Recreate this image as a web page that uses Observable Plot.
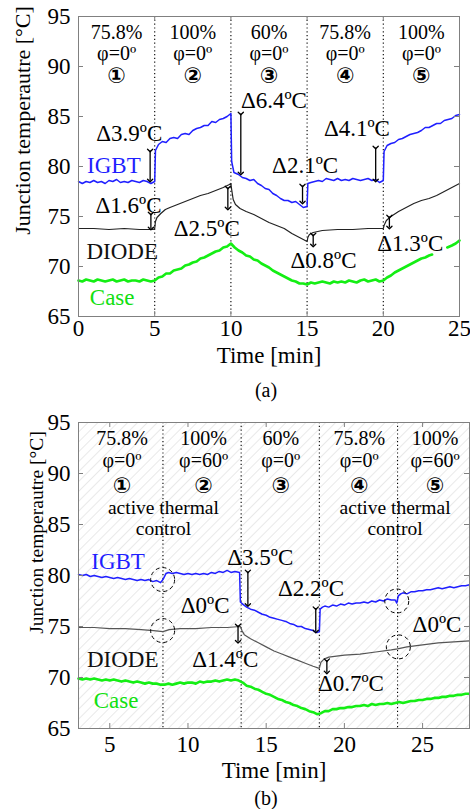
<!DOCTYPE html>
<html><head><meta charset="utf-8">
<script src="https://cdn.jsdelivr.net/npm/d3@7"></script>
<script src="https://cdn.jsdelivr.net/npm/@observablehq/plot@0.6"></script>
<style>
body{margin:0;background:#fff;}
#wrap{position:relative;width:470px;height:809px;font-family:"Liberation Serif","Times New Roman",serif;overflow:hidden;}
#wrap svg{position:absolute;left:0;font-family:"Liberation Serif","Times New Roman",serif !important;}
#wrap svg text{font-family:"Liberation Serif","Times New Roman",serif;}
#wrap svg text.circ{font-family:"DejaVu Sans",sans-serif !important;}
.cap{position:absolute;width:100px;text-align:center;font-size:20px;line-height:20px;}
</style></head><body>
<div id="wrap"></div>
<script>
// ---------- Panel (a) data ----------
const xTicksA = [0, 5, 10, 15, 20, 25];
const xTicksB = [5, 10, 15, 20, 25];
const yTicks = [65, 70, 75, 80, 85, 90, 95];
const boundsA = [5, 10, 15, 20];
const boundsB = [8.4, 13.4, 18.4, 23.4];
const loadA = ["75.8%", "100%", "60%", "75.8%", "100%"];
const phiA = ["φ=0º", "φ=0º", "φ=0º", "φ=0º", "φ=0º"];
const loadB = ["75.8%", "100%", "60%", "75.8%", "100%"];
const phiB = ["φ=0º", "φ=60º", "φ=0º", "φ=0º", "φ=60º"];
const stepNo = ["①", "②", "③", "④", "⑤"];
const midA = [2.5, 7.5, 12.5, 17.5, 22.5];
const midB = [5.78, 11.0, 15.93, 20.95, 25.8];
const atcB = [8.43, 23.24];
// temperature level of each header row (load, φ, step, "active thermal", "control")
const rowsA = [93.4, 91.3, 89.1];
const rowsB = [93.4, 91.25, 88.8, 86.6, 84.6];

const igbtA = [[0,78.5],[0.25,78.3],[0.5,78.5],[0.75,78.4],[1,78.6],[1.25,78.4],[1.5,78.5],[1.75,78.3],[2,78.6],[2.25,78.5],[2.5,78.7],[2.75,78.4],[3,78.5],[3.25,78.4],[3.5,78.6],[3.75,78.5],[4,78.4],[4.25,78.6],[4.5,78.5],[4.75,78.3],[5,78.5],
[5.05,81.6],[5.25,82.2],[5.5,82.5],[5.75,82.4],[6,82.8],[6.25,82.9],[6.5,82.8],[6.75,83.2],[7,83.3],[7.25,83.2],[7.5,83.6],[7.75,83.8],[8,83.9],[8.25,84.1],[8.5,84.1],[8.75,84.5],[9,84.4],[9.25,84.7],[9.5,84.8],[9.75,85.0],[10,85.3],
[10.05,80.5],[10.2,79.4],[10.5,79.2],[10.75,78.9],[11,78.8],[11.25,78.6],[11.5,78.7],[11.75,78.3],[12,78.1],[12.25,77.8],[12.5,77.7],[12.75,77.3],[13,77.1],[13.25,76.8],[13.5,76.6],[13.75,76.6],[14,76.4],[14.25,76.5],[14.5,76.2],[14.75,75.9],[15,76.0],
[15.05,78.3],[15.25,78.4],[15.5,78.5],[15.75,78.6],[16,78.5],[16.25,78.8],[16.5,78.7],[16.75,78.6],[17,78.8],[17.25,78.6],[17.5,78.7],[17.75,78.6],[18,78.8],[18.25,78.7],[18.5,78.6],[18.75,78.7],[19,78.8],[19.25,78.6],[19.5,78.7],[19.75,78.4],[20,78.6],
[20.05,81.5],[20.25,82.1],[20.5,82.3],[20.75,82.4],[21,82.7],[21.25,82.8],[21.5,83.0],[21.75,83.2],[22,83.3],[22.25,83.4],[22.5,83.6],[22.75,83.9],[23,83.9],[23.25,84.1],[23.5,84.3],[23.75,84.3],[24,84.6],[24.25,84.7],[24.5,84.8],[24.75,85.1],[25,85.2]];

const diodeA = [[0,73.8],[1,73.8],[2,73.7],[3,73.8],[4,73.7],[4.9,73.7],[5,73.8],[5.05,74.5],[5.15,74.9],[5.4,75.3],[5.7,75.7],[6,75.9],[6.5,76.2],[7,76.5],[7.5,76.8],[8,77.1],[8.5,77.3],[9,77.6],[9.5,77.9],[9.9,78.2],[10,78.3],
[10.05,77.7],[10.15,76.7],[10.3,76.2],[10.6,75.8],[11,75.5],[11.5,75.2],[12,74.8],[12.5,74.4],[13,74.1],[13.5,73.8],[14,73.3],[14.5,72.9],[15,72.5],
[15.05,72.9],[15.15,73.2],[15.4,73.4],[16,73.6],[17,73.7],[18,73.7],[19,73.8],[20,73.8],
[20.05,74.1],[20.2,74.6],[20.5,75.0],[21,75.5],[21.5,75.9],[22,76.3],[22.5,76.6],[23,76.8],[23.5,77.1],[24,77.5],[24.5,77.9],[25,78.3]];

const caseA = [[0,68.6],[0.25,68.5],[0.5,68.7],[0.75,68.6],[1,68.5],[1.25,68.7],[1.5,68.6],[1.75,68.5],[2,68.6],[2.25,68.7],[2.5,68.5],[2.75,68.6],[3,68.7],[3.25,68.5],[3.5,68.6],[3.75,68.6],[4,68.5],[4.25,68.7],[4.5,68.6],[4.75,68.5],[5,68.6],
[5.25,68.9],[5.5,69.0],[5.75,69.3],[6,69.3],[6.25,69.6],[6.5,69.7],[6.75,69.8],[7,70.1],[7.25,70.2],[7.5,70.4],[7.75,70.5],[8,70.8],[8.25,70.9],[8.5,71.1],[8.75,71.3],[9,71.5],[9.25,71.6],[9.5,71.9],[9.75,72.0],[10,72.3],
[10.25,71.9],[10.5,71.6],[10.75,71.4],[11,71.1],[11.25,71.0],[11.5,70.7],[11.75,70.6],[12,70.3],[12.25,70.1],[12.5,69.9],[12.75,69.6],[13,69.4],[13.25,69.2],[13.5,69.0],[13.75,68.8],[14,68.6],[14.25,68.5],[14.5,68.3],[14.75,68.3],[15,68.2],
[15.25,68.4],[15.5,68.3],[15.75,68.4],[16,68.5],[16.25,68.4],[16.5,68.3],[16.75,68.5],[17,68.4],[17.25,68.5],[17.5,68.4],[17.75,68.6],[18,68.5],[18.25,68.4],[18.5,68.6],[18.75,68.7],[19,68.5],[19.25,68.6],[19.5,68.7],[19.75,68.5],[20,68.6],
[20.25,68.9],[20.5,69.1],[20.75,69.4],[21,69.6],[21.25,69.8],[21.5,70.0],[21.75,70.2],[22,70.4],[22.25,70.6],[22.5,70.8],[22.75,70.9],[23,71.1],[23.2,71.2],[23.5,null],[24.2,71.9],[24.5,72.1],[24.75,72.3],[25,72.6]];

// ---------- Panel (b) data ----------
const igbtB = [[3,80.1],[3.25,80.0],[3.5,80.1],[3.75,79.9],[4,80.0],[4.25,79.9],[4.5,79.8],[4.75,79.9],[5,79.8],[5.25,79.7],[5.5,79.8],[5.75,79.7],[6,79.6],[6.25,79.7],[6.5,79.6],[6.75,79.5],[7,79.6],[7.25,79.5],[7.5,79.6],[7.75,79.4],[8,79.5],[8.25,79.3],[8.4,79.6],
[8.6,80.2],[8.75,80.3],[9,80.2],[9.25,80.3],[9.5,80.2],[9.75,80.1],[10,80.2],[10.25,80.1],[10.5,80.2],[10.75,80.1],[11,80.2],[11.25,80.1],[11.5,80.3],[11.75,80.2],[12,80.4],[12.25,80.3],[12.5,80.5],[12.75,80.3],[13,80.4],[13.3,80.3],
[13.35,77.4],[13.5,77.2],[13.75,76.9],[14,76.7],[14.25,76.6],[14.5,76.4],[14.75,76.2],[15,76.1],[15.25,75.9],[15.5,75.8],[15.75,75.7],[16,75.6],[16.25,75.5],[16.5,75.3],[16.75,75.2],[17,75.0],[17.25,75.0],[17.5,74.8],[17.75,74.7],[18,74.6],[18.25,74.4],[18.4,74.5],
[18.45,76.7],[18.6,76.9],[18.75,77.0],[19,76.9],[19.25,77.1],[19.5,77.0],[19.75,77.2],[20,77.1],[20.25,77.3],[20.5,77.2],[20.75,77.3],[21,77.3],[21.25,77.4],[21.5,77.3],[21.75,77.5],[22,77.4],[22.25,77.6],[22.5,77.5],[22.75,77.7],[23,77.6],[23.25,77.6],[23.35,77.3],
[23.45,78.0],[23.6,78.2],[23.75,78.3],[24,78.2],[24.25,78.4],[24.5,78.4],[24.75,78.5],[25,78.5],[25.25,78.6],[25.5,78.6],[25.75,78.7],[26,78.8],[26.25,78.7],[26.5,78.8],[26.75,78.9],[27,78.8],[27.25,78.9],[27.5,79.0],[27.75,79.0],[28,79.1]];

const diodeB = [[3,74.9],[4,74.9],[5,74.8],[6,74.8],[7,74.7],[7.8,74.6],[8.4,74.5],[8.8,74.7],[9.5,74.8],[10.5,74.8],[11.5,74.9],[12.5,74.9],[13.35,75.0],
[13.45,74.6],[13.6,74.2],[14,73.8],[14.5,73.4],[15,73.0],[15.5,72.6],[16,72.3],[16.5,72.0],[17,71.7],[17.5,71.4],[18,71.1],[18.4,70.9],
[18.5,71.5],[18.7,71.8],[19,72.0],[19.5,72.1],[20,72.2],[21,72.3],[22,72.5],[23,72.7],[23.4,72.8],[24,73.0],[25,73.2],[26,73.4],[27,73.5],[28,73.6]];

const caseB = [[3,69.9],[3.25,69.8],[3.5,69.9],[3.75,69.8],[4,69.9],[4.25,69.8],[4.5,69.7],[4.75,69.8],[5,69.7],[5.25,69.8],[5.5,69.7],[5.75,69.6],[6,69.7],[6.25,69.6],[6.5,69.5],[6.75,69.6],[7,69.5],[7.25,69.4],[7.5,69.5],[7.75,69.4],[8,69.4],[8.25,69.3],[8.5,69.3],[8.75,69.4],[9,69.3],[9.25,69.4],[9.5,69.5],[9.75,69.4],[10,69.5],[10.25,69.5],[10.5,69.4],[10.75,69.6],[11,69.5],[11.25,69.6],[11.5,69.6],[11.75,69.7],[12,69.6],[12.25,69.7],[12.5,69.8],[12.75,69.7],[13,69.8],[13.25,69.7],
[13.5,69.5],[13.75,69.2],[14,69.1],[14.25,68.9],[14.5,68.8],[14.75,68.6],[15,68.4],[15.25,68.3],[15.5,68.1],[15.75,67.9],[16,67.8],[16.25,67.6],[16.5,67.5],[16.75,67.3],[17,67.2],[17.25,67.0],[17.5,66.9],[17.75,66.7],[18,66.6],[18.25,66.4],
[18.5,66.5],[18.75,66.7],[19,66.7],[19.25,66.9],[19.5,66.9],[19.75,67.0],[20,67.0],[20.25,67.1],[20.5,67.1],[20.75,67.2],[21,67.2],[21.25,67.3],[21.5,67.2],[21.75,67.4],[22,67.3],[22.25,67.4],[22.5,67.4],[22.75,67.5],[23,67.4],[23.25,67.5],[23.5,67.6],[23.75,67.5],[24,67.6],[24.25,67.7],[24.5,67.7],[24.75,67.8],[25,67.8],[25.25,67.9],[25.5,67.9],[25.75,68.0],[26,68.0],[26.25,68.1],[26.5,68.1],[26.75,68.2],[27,68.2],[27.25,68.3],[27.5,68.3],[27.75,68.4],[28,68.4]];

// annotations: [time, temperature, text]
const deltaA = [[3.33,83.3,"Δ3.9ºC"],[12.82,86.6,"Δ6.4ºC"],[14.87,80.1,"Δ2.1ºC"],[18.27,83.8,"Δ4.1ºC"],[3.28,76.1,"Δ1.6ºC"],[8.42,73.8,"Δ2.5ºC"],[16.08,70.6,"Δ0.8ºC"],[21.77,72.3,"Δ1.3ºC"]];
const arrowsA = [[4.7,81.6,78.6],[10.65,85.3,79.3],[14.7,78.1,76.4],[19.5,81.9,78.6],[4.75,75.3,73.8],[9.8,77.9,75.8],[15.4,73.2,72.1],[20.4,75.0,73.9]];
const namesA = [[2.32,80.1,"IGBT"],[2.87,71.5,"DIODE"],[2.21,66.9,"Case"]];
const deltaB = [[14.62,81.8,"Δ3.5ºC"],[11.1,77.0,"Δ0ºC"],[12.38,71.8,"Δ1.4ºC"],[17.87,78.7,"Δ2.2ºC"],[20.42,69.4,"Δ0.7ºC"],[25.92,75.2,"Δ0ºC"]];
const arrowsB = [[13.83,80.4,77.1],[18.17,76.8,74.5],[13.2,75.1,73.5],[18.88,71.7,70.5]];
const namesB = [[5.53,81.4,"IGBT"],[5.83,71.8,"DIODE"],[5.4,67.7,"Case"]];
const circlesB = [[8.38,79.6],[8.38,74.6],[23.35,77.5],[23.45,73.0]];

// ---------- rendering ----------
const FONT = "Liberation Serif";
const BLUE = "#1f1fff", GREEN = "#14ee14", AXIS = "#808080";
const seriesColors = {IGBT: "#1f1fff", DIODE: "#111", Case: "#11e011"};

function panel(o) {
  const W = o.width - o.ml - o.mr, H = o.height - o.mt - o.mb;
  const T = {fontFamily: FONT};
  const marks = [];
  if (o.hatch) marks.push(Plot.frame({fill: "url(#hatchB)", stroke: null}));
  marks.push(
    Plot.ruleX(o.bounds, {x: d => d, stroke: "#000", strokeWidth: 1.1, strokeDasharray: "1.2,2.6"}),
    Plot.line(o.caseD, {x: d => d[0], y: d => d[1], stroke: GREEN, strokeWidth: 2.6}),
    Plot.line(o.diode, {x: d => d[0], y: d => d[1], stroke: o.diodeColor, strokeWidth: 1.2}),
    Plot.line(o.igbt, {x: d => d[0], y: d => d[1], stroke: BLUE, strokeWidth: 1.5}),
    Plot.link(o.arrows, {x1: d => d[0], x2: d => d[0], y1: d => d[1], y2: d => d[2], stroke: "#000", strokeWidth: 1.3, markerStart: "arrow", markerEnd: "arrow"}),
    Plot.text(o.deltas, {...T, x: d => d[0], y: d => d[1], text: d => d[2], fontSize: 23, fill: "#000"}),
    Plot.text(o.names, {...T, x: d => d[0], y: d => d[1], text: d => d[2], fontSize: 23, fill: d => seriesColors[d[2]]}),
    Plot.text(o.mids, {...T, x: d => d, y: () => o.rows[0], text: (d, i) => o.load[i], fontSize: 20, lineAnchor: "middle"}),
    Plot.text(o.mids, {...T, x: d => d, y: () => o.rows[1], text: (d, i) => o.phi[i], fontSize: 20, lineAnchor: "middle"}),
    Plot.text(o.mids, {x: d => d, y: () => o.rows[2], text: (d, i) => stepNo[i], fontSize: 22, fontWeight: "bold", fontFamily: "DejaVu Sans", lineAnchor: "middle", className: "circwrap"})
  );
  if (o.circles) marks.push(Plot.dot(o.circles, {x: d => d[0], y: d => d[1], r: 12, stroke: "#000", strokeWidth: 1, strokeDasharray: "4,3", fill: "none"}));
  if (o.atc) {
    marks.push(
      Plot.text(o.atc, {...T, x: d => d, y: () => o.rows[3], text: () => "active thermal", fontSize: 19.5, lineAnchor: "middle"}),
      Plot.text(o.atc, {...T, x: d => d, y: () => o.rows[4], text: () => "control", fontSize: 19.5, lineAnchor: "middle"})
    );
  }
  marks.push(
    Plot.frame({stroke: AXIS, strokeWidth: 1}),
    Plot.tickX(o.xTicks, {x: d => d, insetTop: H - 5, stroke: AXIS}),
    Plot.tickX(o.xTicks, {x: d => d, insetBottom: H - 5, stroke: AXIS}),
    Plot.tickY(yTicks, {y: d => d, insetRight: W - 5, stroke: AXIS}),
    Plot.tickY(yTicks, {y: d => d, insetLeft: W - 5, stroke: AXIS}),
    Plot.axisX(o.xTicks, {...T, tickSize: 0, tickPadding: o.xPad, label: null, fontSize: 23}),
    Plot.axisY(yTicks, {...T, tickSize: 0, tickPadding: 8, label: null, fontSize: 23}),
    Plot.text(["Time [min]"], {...T, text: d => d, frameAnchor: "bottom", dy: o.xLabelDy, fontSize: 23, lineAnchor: "middle"}),
    Plot.text(["Junction temperautre [°C]"], {...T, text: d => d, frameAnchor: "left", textAnchor: "middle", rotate: -90, dx: o.yLabelDx, dy: o.yLabelDy, fontSize: o.yLabelSize, lineAnchor: "middle"})
  );
  const svg = Plot.plot({
    width: o.width, height: o.height,
    marginTop: o.mt, marginBottom: o.mb, marginLeft: o.ml, marginRight: o.mr,
    x: {domain: o.xDomain, label: null},
    y: {domain: [65, 95], label: null},
    style: {fontFamily: "Liberation Serif, serif", fontSize: "23px", background: "transparent", color: "#000", overflow: "visible"},
    marks
  });
  svg.querySelectorAll(".circwrap text").forEach(t => t.classList.add("circ"));
  return svg;
}

const wrap = document.getElementById("wrap");

const svgA = panel({
  width: 470, height: 372, mt: 16, mb: 56, ml: 78, mr: 11,
  xDomain: [0, 25], xTicks: xTicksA, bounds: boundsA, xPad: 3, xLabelDy: 39,
  igbt: igbtA, diode: diodeA, caseD: caseA, diodeColor: "#222",
  arrows: arrowsA, deltas: deltaA, names: namesA,
  mids: midA, load: loadA, phi: phiA, rows: rowsA,
  yLabelDx: -56, yLabelDy: -46, yLabelSize: 22
});
svgA.style.top = "0px";
wrap.appendChild(svgA);

const svgB = panel({
  width: 470, height: 390, mt: 22, mb: 62, ml: 78, mr: 1,
  xDomain: [3, 28], xTicks: xTicksB, bounds: boundsB, xPad: 7, xLabelDy: 42,
  igbt: igbtB, diode: diodeB, caseD: caseB, diodeColor: "#555",
  arrows: arrowsB, deltas: deltaB, names: namesB, circles: circlesB,
  mids: midB, load: loadB, phi: phiB, rows: rowsB, atc: atcB,
  yLabelDx: -42, yLabelDy: -43, yLabelSize: 19.5, hatch: true
});
svgB.style.top = "400px";
svgB.insertAdjacentHTML("afterbegin",
  '<defs><pattern id="hatchB" patternUnits="userSpaceOnUse" width="7" height="7" patternTransform="rotate(45)">' +
  '<rect width="7" height="7" fill="#fff"/><line x1="0" y1="0" x2="0" y2="7" stroke="#dedede" stroke-width="1.3"/></pattern></defs>');
wrap.appendChild(svgB);

const capA = document.createElement("div");
capA.className = "cap"; capA.textContent = "(a)";
capA.style.left = "216px"; capA.style.top = "380px";
wrap.appendChild(capA);
const capB = document.createElement("div");
capB.className = "cap"; capB.textContent = "(b)";
capB.style.left = "216px"; capB.style.top = "788px";
wrap.appendChild(capB);
</script>
</body></html>
